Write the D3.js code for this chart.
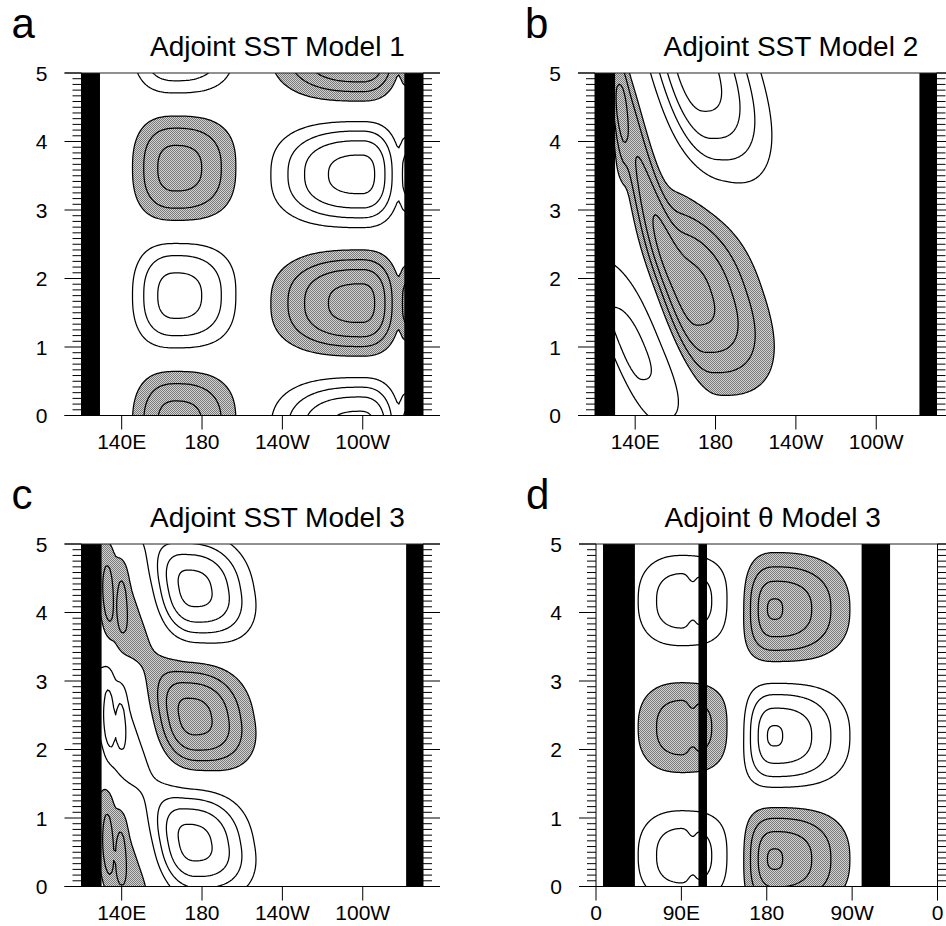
<!DOCTYPE html>
<html>
<head>
<meta charset="utf-8">
<script src="https://cdn.jsdelivr.net/npm/d3@7"></script>
<style>
body { margin: 0; background: #fff; }
text { font-family: "Liberation Sans", Arial, Helvetica, sans-serif; fill: #000; }
</style>
</head>
<body>
<div id="chart"></div>
<script>
// panel texts
var letters = ["a", "b", "c", "d"]
var titles = ["Adjoint SST Model 1", "Adjoint SST Model 2", "Adjoint SST Model 3", "Adjoint \u03b8 Model 3"]

// axes
var years = [0, 1, 2, 3, 4, 5]
var pacTicks = [140, 180, 220, 260]
var pacLabels = ["140E", "180", "140W", "100W"]
var globTicks = [0, 90, 180, 270, 360]
var globLabels = ["0", "90E", "180", "90W", "0"]
var levels = [1, 2, 3, 4]

// land masks (lon ranges, deg E)
var landA = [[120, 129.2], [280.7, 290]]
var landB = [[120, 130], [281.5, 290]]
var landC = [[120, 130], [281.6, 290]]
var landD = [[7.4, 41], [108, 117], [280, 310]]

// anomaly centres
// columns: lon, year, amplitude, west width, east width, south width (yr), north width (yr), tilt (deg lon per yr)
var blobsA = [
  [167, -0.12, 3.3, 16, 22.8, 0.59, 0.59, 0],
  [167, 1.75, -3.3, 16, 22.8, 0.59, 0.59, 0],
  [167, 3.61, 3.3, 16, 22.8, 0.59, 0.59, 0],
  [167, 5.47, -3.3, 16, 22.8, 0.59, 0.59, 0],
  [259, -0.22, -4.3, 31.3, 13.5, 0.55, 0.55, 0],
  [259, 1.64, 4.3, 31.3, 13.5, 0.55, 0.55, 0],
  [259, 3.52, -4.3, 31.3, 13.5, 0.55, 0.55, 0],
  [259, 5.36, 4.3, 31.3, 13.5, 0.55, 0.55, 0],
  [282, -0.22, -1.8, 2.5, 2.5, 0.45, 0.45, 0],
  [282, 1.64, 1.8, 2.5, 2.5, 0.45, 0.45, 0],
  [282, 3.52, -1.8, 2.5, 2.5, 0.45, 0.45, 0],
  [282, 5.36, 1.8, 2.5, 2.5, 0.45, 0.45, 0]
]
var blobsB = [
  [166, 1.8, 4.3, 11, 25, 1.0, 1.0, -11],
  [139, 4.0, 2.8, 6, 6, 1.2, 1.5, -9],
  [132.5, 4.1, 1.0, 2.5, 2.5, 0.65, 0.65, 0],
  [168, 5.1, -4.5, 14, 22, 1.15, 1.15, -10],
  [137, 1.0, -2.2, 8, 15, 0.9, 1.1, -14]
]
var blobsC = [
  [175, 4.35, -4.3, 13.5, 20.5, 0.56, 0.56, -6],
  [175, 2.48, 4.3, 13.5, 20.5, 0.56, 0.56, -6],
  [175, 0.64, -4.3, 13.5, 20.5, 0.56, 0.56, -6],
  [138, 3.95, 1.7, 8, 12, 0.6, 1.1, -12],
  [138, 2.1, -1.7, 8, 12, 0.6, 1.1, -12],
  [138, 0.25, 1.7, 8, 12, 0.6, 1.1, -12],
  [138, 5.8, -1.7, 8, 12, 0.6, 1.1, -12],
  [133, 4.25, 0.8, 2.2, 2.2, 0.55, 0.55, 0],
  [140.5, 4.2, 0.8, 2.2, 2.2, 0.45, 0.45, 0],
  [133.5, 2.5, -0.8, 2.2, 2.2, 0.55, 0.55, 0],
  [140, 2.5, -0.8, 2.2, 2.2, 0.4, 0.4, 0],
  [133, 0.7, 0.8, 2.2, 2.2, 0.6, 0.6, 0],
  [140, 0.55, 0.8, 2.2, 2.2, 0.45, 0.45, 0]
]
var blobsD = [
  [93, 0.45, -2.57, 38, 38, 0.52, 0.52, 0],
  [93, 2.32, 2.57, 38, 38, 0.52, 0.52, 0],
  [93, 4.17, -2.57, 38, 38, 0.52, 0.52, 0],
  [101, 0.45, 0.45, 5, 5, 0.3, 0.3, 0],
  [101, 2.32, -0.45, 5, 5, 0.3, 0.3, 0],
  [101, 4.17, 0.45, 5, 5, 0.3, 0.3, 0],
  [188, 0.4, 3.7, 25, 55, 0.57, 0.57, 0],
  [188, 2.2, -3.7, 25, 55, 0.57, 0.57, 0],
  [188, 4.05, 3.7, 25, 55, 0.57, 0.57, 0],
  [188, 0.4, 0.6, 8, 8, 0.15, 0.15, 0],
  [188, 2.2, -0.6, 8, 8, 0.15, 0.15, 0],
  [188, 4.05, 0.6, 8, 8, 0.15, 0.15, 0]
]

var P = 2.5

function fieldAt(blobs, lon, yr, wrap, Q) {
  var s = 0
  for (var k = 0; k < blobs.length; k++) {
    var b = blobs[k]
    var dy = yr - b[1]
    var dx = lon - b[0] - b[7] * dy
    if (wrap) dx = ((dx + 540) % 360) - 180
    var u = dx / (dx < 0 ? b[3] : b[4])
    var v = dy / (dy < 0 ? b[5] : b[6])
    var r = Math.pow(Math.pow(Math.abs(u), P) + Math.pow(Math.abs(v), P), 1 / P)
    s += b[2] * Math.exp(-0.5 * Math.pow(r, Q))
  }
  return s
}

var W = 946, H = 926
var svg = d3.select("#chart").append("svg").attr("width", W).attr("height", H)
var defs = svg.append("defs")
var pat = defs.append("pattern").attr("id", "stip").attr("width", 2).attr("height", 2)
  .attr("patternUnits", "userSpaceOnUse")
pat.append("rect").attr("width", 2).attr("height", 2).attr("fill", "#d2d2d2")
pat.append("rect").attr("width", 1).attr("height", 1).attr("fill", "#7a7a7a")
pat.append("rect").attr("x", 1).attr("y", 1).attr("width", 1).attr("height", 1).attr("fill", "#7a7a7a")

var pw = 341.5, ph = 342.5
var panels = [
  {x0: 81.5, y0: 73, dom: [120, 290], ticks: pacTicks, labels: pacLabels, land: landA, blobs: blobsA, wrap: false, q: 2.9},
  {x0: 595, y0: 73, dom: [120, 290], ticks: pacTicks, labels: pacLabels, land: landB, blobs: blobsB, wrap: false, q: 2.6},
  {x0: 81.5, y0: 544, dom: [120, 290], ticks: pacTicks, labels: pacLabels, land: landC, blobs: blobsC, wrap: false, q: 2.6},
  {x0: 596, y0: 544, dom: [0, 360], ticks: globTicks, labels: globLabels, land: landD, blobs: blobsD, wrap: true, q: 2.6}
]

panels.forEach(function(p, pi) {
  var x = d3.scaleLinear().domain(p.dom).range([p.x0, p.x0 + pw])
  var y = d3.scaleLinear().domain([0, 5]).range([p.y0 + ph, p.y0])
  var g = svg.append("g")

  // field on a grid a little larger than the frame
  var dl = 1, dyr = 0.02
  var lonStart = p.dom[0] - 3, yrStart = -0.1
  var nx = Math.round((p.dom[1] - p.dom[0] + 6) / dl) + 1
  var ny = Math.round(5.2 / dyr) + 1
  var vals = new Array(nx * ny)
  for (var j = 0; j < ny; j++) {
    for (var i = 0; i < nx; i++) {
      vals[j * nx + i] = fieldAt(p.blobs, lonStart + i * dl, yrStart + j * dyr, p.wrap, p.q)
    }
  }
  var proj = d3.geoTransform({
    point: function(X, Y) {
      this.stream.point(x(lonStart + (X - 0.5) * dl), y(yrStart + (Y - 0.5) * dyr))
    }
  })
  var path = d3.geoPath(proj)
  var gen = d3.contours().size([nx, ny]).thresholds(levels)
  var pos = gen(vals)
  var neg = gen(vals.map(function(v) { return -v }))

  defs.append("clipPath").attr("id", "clip" + pi)
    .append("rect").attr("x", p.x0).attr("y", p.y0).attr("width", pw).attr("height", ph)
  var cg = g.append("g").attr("clip-path", "url(#clip" + pi + ")")
  cg.append("path").attr("d", path(pos[0])).attr("fill", "url(#stip)").attr("stroke", "none")
  cg.selectAll("path.c").data(pos.concat(neg)).enter().append("path")
    .attr("class", "c")
    .attr("d", path)
    .attr("fill", "none").attr("stroke", "#000").attr("stroke-width", 1.25)
    .attr("stroke-linejoin", "round")

  // land
  g.selectAll("rect.land").data(p.land).enter().append("rect")
    .attr("class", "land")
    .attr("x", function(d) { return x(d[0]) })
    .attr("width", function(d) { return x(d[1]) - x(d[0]) })
    .attr("y", p.y0).attr("height", ph).attr("fill", "#000")

  // frame
  var x1 = p.x0 + pw, y1 = p.y0 + ph
  g.append("line").attr("x1", p.x0 - 17).attr("x2", x1 + 17).attr("y1", p.y0).attr("y2", p.y0)
    .attr("stroke", "#222").attr("stroke-width", 1)
  g.append("line").attr("x1", p.x0 - 17).attr("x2", x1 + 17).attr("y1", y1).attr("y2", y1)
    .attr("stroke", "#000").attr("stroke-width", 1.2)
  g.append("line").attr("x1", p.x0).attr("x2", p.x0).attr("y1", p.y0).attr("y2", y1)
    .attr("stroke", "#000").attr("stroke-width", 1)
  g.append("line").attr("x1", x1).attr("x2", x1).attr("y1", p.y0).attr("y2", y1)
    .attr("stroke", "#000").attr("stroke-width", 1)

  // monthly ticks on both sides
  var months = d3.range(0, 61)
  g.selectAll("line.yl").data(months).enter().append("line")
    .attr("x1", function(m) { return p.x0 - (m % 12 === 0 ? 17 : 9) }).attr("x2", p.x0)
    .attr("y1", function(m) { return y(m / 12) }).attr("y2", function(m) { return y(m / 12) })
    .attr("stroke", "#000").attr("stroke-width", 1)
  g.selectAll("line.yr").data(months).enter().append("line")
    .attr("x1", x1).attr("x2", function(m) { return x1 + (m % 12 === 0 ? 17 : 9) })
    .attr("y1", function(m) { return y(m / 12) }).attr("y2", function(m) { return y(m / 12) })
    .attr("stroke", "#000").attr("stroke-width", 1)

  g.selectAll("text.yt").data(years).enter().append("text")
    .attr("x", p.x0 - 34).attr("y", function(d) { return y(d) + 7.5 })
    .attr("text-anchor", "end").style("font-size", "21px")
    .text(function(d) { return d })

  g.selectAll("line.xt").data(p.ticks).enter().append("line")
    .attr("x1", function(d) { return x(d) }).attr("x2", function(d) { return x(d) })
    .attr("y1", y1).attr("y2", y1 + 14)
    .attr("stroke", "#000").attr("stroke-width", 1)
  g.selectAll("text.xt").data(p.ticks).enter().append("text")
    .attr("x", function(d) { return x(d) }).attr("y", y1 + 33)
    .attr("text-anchor", "middle").style("font-size", "21px")
    .text(function(d, i) { return p.labels[i] })

  g.append("text").attr("x", p.x0 + 68.5).attr("y", p.y0 - 17)
    .style("font-size", "28px").text(titles[pi])
  g.append("text").attr("x", p.x0 - 70).attr("y", p.y0 - 35)
    .style("font-size", "42px").text(letters[pi])
})
</script>
</body>
</html>
